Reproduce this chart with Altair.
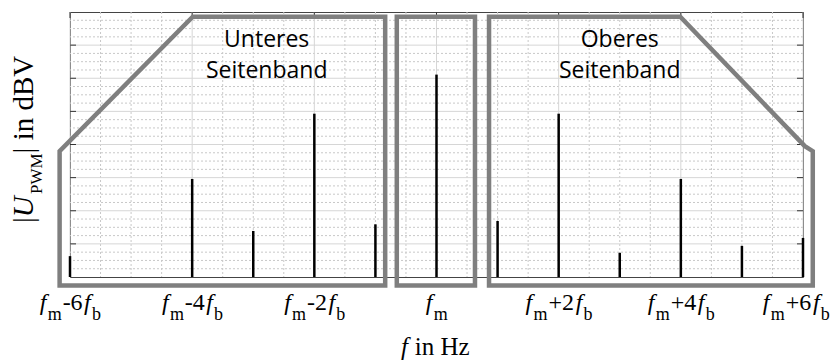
import altair as alt
import pandas as pd
import numpy as np

# ---------------- data ----------------
HARMONIC = [-6, -4, -3, -2, -1, 0, 1, 2, 3, 4, 5, 6]          # multiples of f_b around f_m
LEVEL = [0.63, 2.96, 1.39, 4.93, 1.59, 6.11, 1.69, 4.93, 0.73, 2.96, 0.94, 1.18]  # grid units

TICK_POS = [-6, -4, -2, 0, 2, 4, 6]
TICK_OP = ["-6", "-4", "-2", "", "+2", "+4", "+6"]

LOWER_X = [-0.84, -6.17, -6.17, -3.99, -0.84, -0.84]
LOWER_Y = [-0.26, -0.26, 3.80, 7.86, 7.86, -0.26]
MID_X = [-0.65, -0.65, 0.63, 0.63, -0.65]
MID_Y = [-0.26, 7.86, 7.86, -0.26, -0.26]
UPPER_X = [0.86, 0.86, 3.99, 6.03, 6.16, 6.16, 0.86]
UPPER_Y = [-0.26, 7.86, 7.86, 3.95, 3.80, -0.26, -0.26]

BAND_LINES = ["Unteres", "Seitenband", "Oberes", "Seitenband"]
BAND_X = [-2.78, -2.78, 3.0, 3.0]
BAND_Y = [6.94, 6.01, 6.94, 6.01]

# ---------------- layout ----------------
W, H = 733, 265
LEFT_PAD, RIGHT_PAD = 62, 29
PXU = W / 12.0
SERIF = "Liberation Serif"
F_MAIN, F_SUB = 24, 18
KSTRETCH = 1.05

xs = alt.Scale(domain=[-6, 6], nice=False, zero=False)
ys = alt.Scale(domain=[0, 8], nice=False, zero=False)

def X(field):
    return alt.X(field, type="quantitative", scale=xs, axis=None)

def Y(field):
    return alt.Y(field, type="quantitative", scale=ys, axis=None)

# grid
gx_minor = pd.DataFrame({"v": [v for v in np.arange(-6, 6.01, 0.5) if abs(v % 2) > 1e-9]})
gx_major = pd.DataFrame({"v": list(range(-6, 7, 2))})
gy_minor = pd.DataFrame({"v": [v for v in np.arange(0, 8.01, 0.25) if abs(v % 1) > 1e-9]})
gy_major = pd.DataFrame({"v": list(range(1, 8))})

grid = [
    alt.Chart(gx_minor).mark_rule(color="#c8c8c8", strokeDash=[2, 2], strokeWidth=1).encode(x=X("v")),
    alt.Chart(gy_minor).mark_rule(color="#c8c8c8", strokeDash=[2, 2], strokeWidth=1).encode(y=Y("v")),
    alt.Chart(gx_major).mark_rule(color="#d6d6d6", strokeWidth=1).encode(x=X("v")),
    alt.Chart(gy_major).mark_rule(color="#d6d6d6", strokeWidth=1).encode(y=Y("v")),
]

ticks = [
    alt.Chart(gy_major).mark_rule(color="#333", strokeWidth=1).encode(y=Y("v"), x=alt.value(0), x2=alt.value(6)),
    alt.Chart(gy_major).mark_rule(color="#333", strokeWidth=1).encode(y=Y("v"), x=alt.value(W - 6), x2=alt.value(W)),
    alt.Chart(gx_major).mark_rule(color="#333", strokeWidth=1).encode(x=X("v"), y=alt.value(0), y2=alt.value(6)),
]

spec_df = pd.DataFrame({"h": HARMONIC, "lvl": LEVEL})
spectrum = alt.Chart(spec_df).mark_rule(color="black", strokeWidth=2.5).encode(
    x=X("h"), y=Y("lvl"), y2=alt.datum(0)
)

shape_rows = []
for name, xx, yy in [("lower", LOWER_X, LOWER_Y), ("mid", MID_X, MID_Y), ("upper", UPPER_X, UPPER_Y)]:
    for i, (a, b) in enumerate(zip(xx, yy)):
        shape_rows.append({"shape": name, "i": i, "x": a, "y": b})
shapes = alt.Chart(pd.DataFrame(shape_rows)).mark_line(
    color="#7f7f7f", strokeWidth=4.5, strokeJoin="miter", strokeCap="square"
).encode(x=X("x"), y=Y("y"), detail="shape:N", order="i:Q")

band_df = pd.DataFrame({"t": BAND_LINES, "x": BAND_X, "y": BAND_Y})
band_text = alt.Chart(band_df).mark_text(
    font="Open Sans", fontSize=23, color="black", align="center", baseline="alphabetic"
).encode(x=X("x"), y=Y("y"), text="t:N")

# tick labels built from pieces (italic f, subscripts)
EM = {"f": 0.34, "m": 0.778, "b": 0.5, "-": 0.333, "+": 0.564, "0": 0.5, "1": 0.5,
      "2": 0.5, "3": 0.5, "4": 0.5, "5": 0.5, "6": 0.5}

def pw(txt, size):
    return sum(EM.get(c, 0.5) for c in txt) * size

rows = []
for t, op in zip(TICK_POS, TICK_OP):
    pieces = [("f", "it"), ("m", "sub")]
    if op:
        pieces += [(op, "reg"), ("f", "it"), ("b", "sub")]
    widths = [pw(p, F_SUB if k == "sub" else F_MAIN) * KSTRETCH for p, k in pieces]
    total = sum(widths)
    # keep the label inside the drawing on the right-hand side
    room = W + RIGHT_PAD - 2 - ((t + 6) * PXU)
    shift = min(0.0, room - total / 2)
    acc = -total / 2 + shift
    for (p, k), w in zip(pieces, widths):
        rows.append({"x": t + (acc + w / 2) / PXU, "t": p, "k": k})
        acc += w
lab_df = pd.DataFrame(rows)
lab_base = alt.Chart(lab_df)
labels = [
    lab_base.transform_filter("datum.k == 'it'").mark_text(
        font=SERIF, fontSize=F_MAIN, fontStyle="italic", align="center", baseline="alphabetic", color="black"
    ).encode(x=X("x"), y=alt.value(298), text="t:N"),
    lab_base.transform_filter("datum.k == 'reg'").mark_text(
        font=SERIF, fontSize=F_MAIN, align="center", baseline="alphabetic", color="black"
    ).encode(x=X("x"), y=alt.value(298), text="t:N"),
    lab_base.transform_filter("datum.k == 'sub'").mark_text(
        font=SERIF, fontSize=F_SUB, align="center", baseline="alphabetic", color="black"
    ).encode(x=X("x"), y=alt.value(308), text="t:N"),
]

# axis titles
one = pd.DataFrame({"a": [0]})
XT_F = 25
x_title = [
    alt.Chart(one).mark_text(font=SERIF, fontSize=XT_F, fontStyle="italic", align="left",
                             baseline="alphabetic", color="black").encode(
        x=alt.value(331), y=alt.value(343), text=alt.value("f")),
    alt.Chart(one).mark_text(font=SERIF, fontSize=XT_F, align="left",
                             baseline="alphabetic", color="black").encode(
        x=alt.value(331 + 0.55 * XT_F), y=alt.value(343), text=alt.value("in Hz")),
]

YT_F, YT_S = 29, 17
yt_pieces = [("|", YT_F, "normal", 0), ("U", YT_F, "italic", 0), ("PWM", YT_S, "normal", 9),
             ("|", YT_F, "normal", 0), ("in dBV", YT_F, "normal", 0)]
YEM = {"|": 0.2, "U": 0.80, "P": 0.556, "W": 0.944, "M": 0.889, " ": 0.25, "i": 0.278,
       "n": 0.5, "d": 0.5, "B": 0.667, "V": 0.722}
y_title = []
acc = 0.0
for txt, size, style, dy in yt_pieces:
    if txt == "in dBV":
        acc += 0.25 * YT_F
    y_title.append(
        alt.Chart(one).mark_text(font=SERIF, fontSize=size, fontStyle=style, align="left",
                                 baseline="alphabetic", angle=270, dx=acc, dy=dy, color="black").encode(
            x=alt.value(-37), y=alt.value(211), text=alt.value(txt))
    )
    acc += sum(YEM.get(c, 0.5) for c in txt) * size

chart = alt.layer(
    *grid, *ticks, spectrum, shapes, band_text, *labels, *x_title, *y_title
).properties(
    width=W, height=H,
    autosize=alt.AutoSizeParams(type="none"),
    padding={"left": LEFT_PAD, "top": 4, "right": RIGHT_PAD, "bottom": 84},
).configure_view(stroke="#444", strokeWidth=1)

chart.save("out.html", embed_options={"renderer": "svg", "actions": False})
